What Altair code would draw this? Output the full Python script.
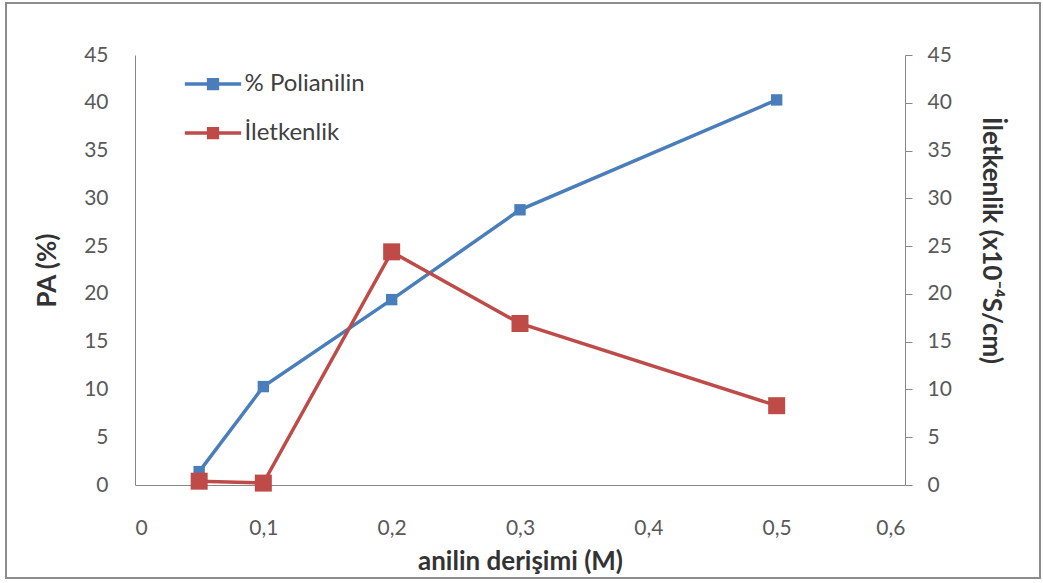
import altair as alt
import pandas as pd

conc = [0.05, 0.1, 0.2, 0.3, 0.5]
pa_vals = [1.4, 10.3, 19.4, 28.8, 40.3]
ilet_vals = [0.4, 0.2, 24.4, 16.9, 8.3]
series_names = ["% Polianilin", "İletkenlik"]
colors = ["#4A7EBB", "#BE4B48"]
x_ticks = [0, 0.1, 0.2, 0.3, 0.4, 0.5, 0.6]
y_ticks = [0, 5, 10, 15, 20, 25, 30, 35, 40, 45]

df_pa = pd.DataFrame({"x": conc, "v": pa_vals, "s": series_names[0]})
df_il = pd.DataFrame({"x": conc, "v": ilet_vals, "s": series_names[1]})

FONT = "Lato"
W, H = 770, 430
LBL = 21
TTL = 26

xenc = alt.X("x:Q", scale=alt.Scale(domain=[0, 0.6], nice=False),
             axis=alt.Axis(values=x_ticks, title="anilin derişimi (M)",
                           labelExpr="datum.value == 0 ? '0' : replace(format(datum.value, '.1f'), '.', ',')",
                           ticks=False, grid=False, labelPadding=32, domainColor="#868686",
                           labelColor="#595959", labelFontSize=LBL, labelFont=FONT,
                           titleFont=FONT, titleFontSize=TTL, titleFontWeight="bold",
                           titleColor="#333333", titleX=385, titleY=76, titleBaseline="middle",
                           titleAlign="center"))

legend_path = ("M-1.15,-0.07 L1.15,-0.07 L1.15,0.07 L-1.15,0.07 Z "
               "M-0.25,-0.25 L0.25,-0.25 L0.25,0.25 L-0.25,0.25 Z")

color_enc = alt.Color("s:N", scale=alt.Scale(domain=series_names, range=colors),
                      legend=alt.Legend(title=None, orient="none", legendX=53.5, legendY=4.5,
                                        symbolType=legend_path, symbolSize=2401,
                                        symbolStrokeWidth=0, symbolOpacity=1,
                                        labelFont=FONT, labelFontSize=24, labelColor="#404040",
                                        labelOffset=7, rowPadding=12, padding=0))

yleft = alt.Y("v:Q", scale=alt.Scale(domain=[0, 45], nice=False),
              axis=alt.Axis(orient="left", values=y_ticks, title="PA (%)", ticks=False,
                            grid=False, labelPadding=27, domainColor="#868686",
                            labelColor="#595959", labelFontSize=LBL, labelFont=FONT,
                            titleFont=FONT, titleFontSize=TTL, titleFontWeight="bold",
                            titleColor="#333333", titleX=-88, titleY=215,
                            titleAlign="center", titleBaseline="middle"))

yright = alt.Y("v:Q", scale=alt.Scale(domain=[0, 45], nice=False),
               axis=alt.Axis(orient="right", values=y_ticks, title="İletkenlik (x10⁻⁴S/cm)",
                             ticks=True, tickSize=7, tickColor="#868686", grid=False,
                             labelPadding=15, domainColor="#868686",
                             labelColor="#595959", labelFontSize=LBL, labelFont=FONT,
                             titleFont=FONT, titleFontSize=TTL, titleFontWeight="bold",
                             titleColor="#333333", titleX=85, titleY=185,
                             titleAlign="center", titleBaseline="middle", titleAngle=90))

pa_line = alt.Chart(df_pa).mark_line(strokeWidth=3.5, color=colors[0]).encode(x=xenc, y=yleft)
pa_pts = alt.Chart(df_pa).mark_point(shape="square", filled=True, size=130, opacity=1).encode(
    x=xenc, y=yleft, color=color_enc)
il_line = alt.Chart(df_il).mark_line(strokeWidth=3.5, color=colors[1]).encode(x=xenc, y=yright)
il_pts = alt.Chart(df_il).mark_point(shape="square", filled=True, size=289, opacity=1).encode(
    x=xenc, y=yright, color=color_enc)

border = alt.Chart(alt.Data(values=[{"a": 1}])).mark_rect(
    filled=False, stroke="#8c8c8c", strokeWidth=2).encode(
    x=alt.value(-129), x2=alt.value(905), y=alt.value(-52), y2=alt.value(523))

left = alt.layer(pa_line, pa_pts)
right = alt.layer(il_line, il_pts)

chart = alt.layer(border, left, right).resolve_scale(y="independent").properties(
    width=W, height=H,
    autosize=alt.AutoSizeParams(type="none"),
    padding={"left": 135, "top": 55, "right": 138, "bottom": 98},
    background="white",
).configure_view(strokeWidth=0)

chart.save("out.html", embed_options={"renderer": "svg", "actions": False})
